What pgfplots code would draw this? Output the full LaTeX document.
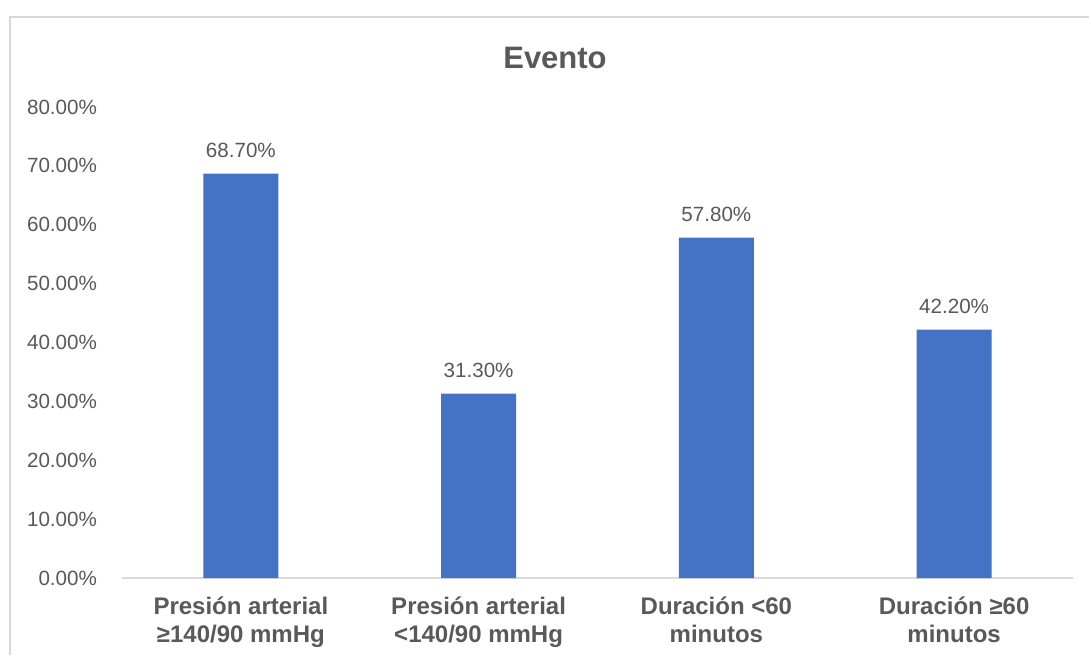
\documentclass[border=0pt]{standalone}
\usepackage{pgfplots}
\pgfplotsset{compat=1.18}
\usepackage{fontspec}
\setmainfont{Liberation Sans}
\definecolor{barblue}{HTML}{4472C4}
\definecolor{txtgray}{HTML}{595959}
\definecolor{linegray}{HTML}{D9D9D9}
\begin{document}
\begin{tikzpicture}
\path[use as bounding box] (0,0) rectangle (544.5pt,327.5pt);
\fill[white] (0,0) rectangle (544.5pt,327.5pt);
\draw[linegray, line width=1pt] (4.75pt,0) -- (4.75pt,319pt) -- (544.5pt,319pt);
\node[anchor=base, font=\fontsize{15.5}{18}\selectfont\bfseries, text=txtgray] at (277.5pt,293pt) {Evento};
\begin{axis}[
  at={(61pt,38.5pt)}, anchor=south west,
  scale only axis, width=475.5pt, height=235.5pt,
  xmin=-0.5, xmax=3.5, ymin=0, ymax=80,
  axis x line*=bottom, axis y line*=left,
  x axis line style={draw=linegray, line width=1pt, -},
  y axis line style={draw=none},
  tick style={draw=none},
  xtick={0,1,2,3},
  xticklabels={{Presión arterial\\≥140/90 mmHg},{Presión arterial\\<140/90 mmHg},{Duración <60\\minutos},{Duración ≥60\\minutos}},
  xticklabel style={align=center, font=\fontsize{12}{13.8}\selectfont\bfseries, text=txtgray, yshift=-6pt},
  ytick={0,10,20,30,40,50,60,70,80},
  yticklabels={0.00\%,10.00\%,20.00\%,30.00\%,40.00\%,50.00\%,60.00\%,70.00\%,80.00\%},
  yticklabel style={font=\fontsize{10.3}{12}\selectfont, text=txtgray, xshift=-9pt},
  nodes near coords={\pgfmathprintnumber[fixed,fixed zerofill,precision=2,assume math mode=true]{\pgfplotspointmeta}\%},
  nodes near coords style={anchor=base, yshift=8pt, font=\fontsize{10.3}{12}\selectfont, text=txtgray},
  clip=false,
]
\addplot[ybar, bar width=37.5pt, fill=barblue, draw=none] coordinates {(0,68.7) (1,31.3) (2,57.8) (3,42.2)};
\end{axis}
\end{tikzpicture}
\end{document}
